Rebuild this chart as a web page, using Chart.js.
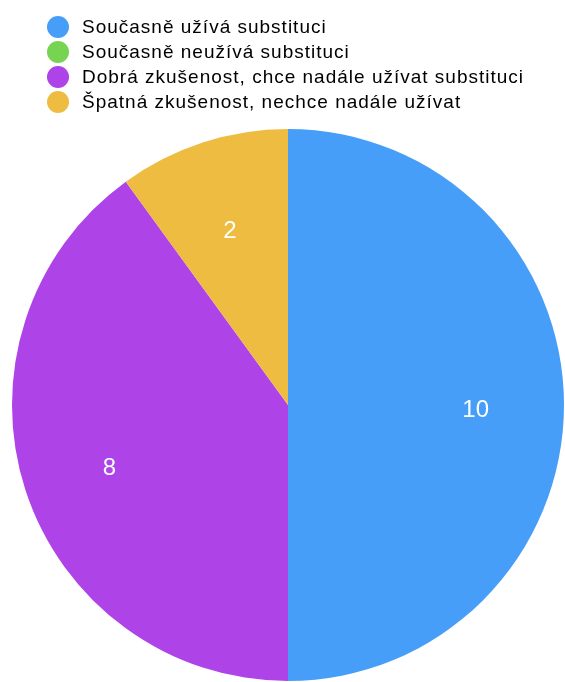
<!DOCTYPE html>
<html lang="cs">
<head>
    <meta charset="UTF-8">
    <title>Substituce</title>
    <style>
        html, body {
            margin: 0;
            padding: 0;
            background: white;
        }
        .wrap {
            position: relative;
            width: 565px;
            height: 682px;
        }
        #chart {
            position: absolute;
            left: 0;
            top: 0;
        }
        #legend {
            position: absolute;
            left: 47px;
            top: 14px;
            font-family: "Liberation Sans", Arial, sans-serif;
            font-size: 19px;
            letter-spacing: 1px;
            color: #000;
        }
        #legend div {
            height: 25px;
            line-height: 25px;
            white-space: nowrap;
        }
        #legend span.dot {
            display: inline-block;
            width: 22px;
            height: 22px;
            border-radius: 50%;
            vertical-align: -5px;
            margin-right: 13px;
        }
    </style>
    <script src="https://cdn.jsdelivr.net/npm/chart.js"></script>
</head>
<body>
    <div class="wrap">
        <canvas id="chart" width="565" height="682"></canvas>
        <div id="legend"></div>
    </div>

    <script>
        const labels = [
            'Současně užívá substituci',
            'Současně neužívá substituci',
            'Dobrá zkušenost, chce nadále užívat substituci',
            'Špatná zkušenost, nechce nadále užívat'
        ];
        const values = [10, 0, 8, 2];
        const colors = ['#479ef8', '#77d452', '#ae43e8', '#eebc40'];

        // legend
        const legend = document.getElementById('legend');
        legend.innerHTML = labels.map((l, i) =>
            `<div><span class="dot" style="background:${colors[i]}"></span>${l}</div>`
        ).join('');

        // numbers inside slices
        const sliceLabels = {
            id: 'sliceLabels',
            afterDatasetsDraw(chart) {
                const ctx = chart.ctx;
                const meta = chart.getDatasetMeta(0);
                ctx.save();
                ctx.fillStyle = 'white';
                ctx.font = '24px "Liberation Sans", Arial, sans-serif';
                ctx.textAlign = 'center';
                ctx.textBaseline = 'middle';
                meta.data.forEach((arc, i) => {
                    if (!values[i]) return;
                    const mid = (arc.startAngle + arc.endAngle) / 2;
                    const d = arc.outerRadius * 0.68;
                    ctx.fillText(values[i], arc.x + d * Math.cos(mid), arc.y + d * Math.sin(mid) + 5);
                });
                ctx.restore();
            }
        };

        new Chart(document.getElementById('chart'), {
            type: 'pie',
            data: {
                labels: labels,
                datasets: [{
                    data: values,
                    backgroundColor: colors,
                    borderWidth: 0
                }]
            },
            options: {
                responsive: false,
                animation: false,
                layout: {
                    padding: { top: 129, bottom: 1, left: 12, right: 1 }
                },
                plugins: {
                    legend: { display: false },
                    tooltip: { enabled: false }
                }
            },
            plugins: [sliceLabels]
        });
    </script>
</body>
</html>
